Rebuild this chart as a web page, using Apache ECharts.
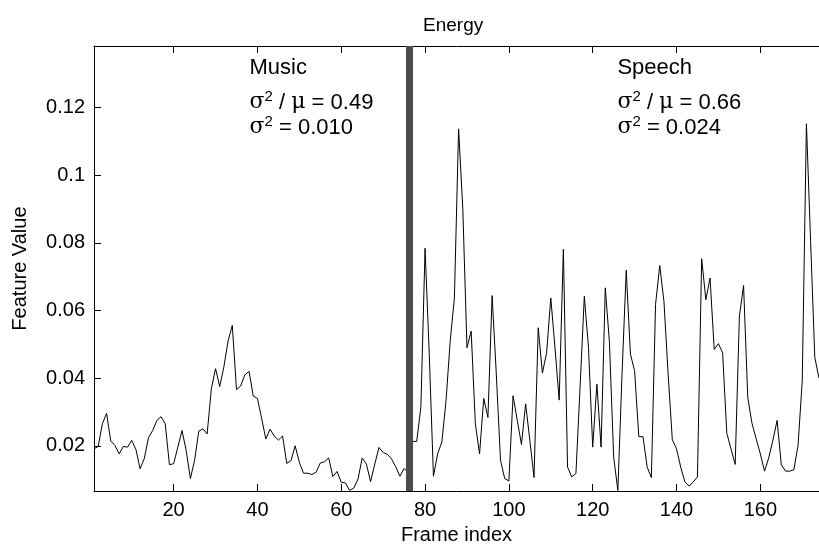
<!DOCTYPE html>
<html><head><meta charset="utf-8">
<script src="https://cdn.jsdelivr.net/npm/echarts@6/dist/echarts.min.js"></script>
<style>html,body{margin:0;padding:0;background:#fff}#c{width:819px;height:550px}</style>
</head><body><div id="c"></div>
<script>
// Energy feature value per frame (frames 1..174)
const musicEnergy = [
  0.0191,0.0198,0.0265,0.0296,0.0214,0.0201,0.0176,0.0198,0.0196,0.0216,
  0.0189,0.0132,0.0162,0.0224,0.0245,0.0275,0.0286,0.0265,0.0144,0.0147,
  0.0196,0.0245,0.0186,0.0103,0.0157,0.0243,0.0250,0.0235,0.0368,0.0428,
  0.0375,0.0434,0.0510,0.0556,0.0366,0.0377,0.0410,0.0420,0.0347,0.0340,
  0.0281,0.0220,0.0249,0.0229,0.0217,0.0229,0.0148,0.0156,0.0200,0.0151,
  0.0119,0.0119,0.0115,0.0122,0.0149,0.0153,0.0164,0.0109,0.0124,0.0092,
  0.0090,0.0068,0.0075,0.0102,0.0164,0.0146,0.0094,0.0146,0.0195,0.0180,
  0.0175,0.0161,0.0138,0.0110,0.0133,0.0120
];
const speechEnergy = [
  0.0213,0.0213,0.0314,0.0784,0.0471,0.0110,0.0176,0.0211,0.0333,0.0510,
  0.0637,0.1137,0.0902,0.0490,0.0539,0.0265,0.0176,0.0340,0.0284,0.0644,
  0.0412,0.0157,0.0103,0.0096,0.0348,0.0275,0.0204,0.0324,0.0216,0.0106,
  0.0549,0.0415,0.0475,0.0637,0.0490,0.0335,0.0781,0.0137,0.0108,0.0118,
  0.0377,0.0642,0.0490,0.0196,0.0382,0.0196,0.0667,0.0505,0.0167,0.0068,
  0.0412,0.0719,0.0471,0.0422,0.0227,0.0227,0.0137,0.0106,0.0618,0.0733,
  0.0627,0.0412,0.0218,0.0191,0.0137,0.0093,0.0081,0.0093,0.0108,0.0753,
  0.0632,0.0696,0.0485,0.0502,0.0475,0.0237,0.0191,0.0145,0.0583,0.0674,
  0.0343,0.0267,0.0221,0.0176,0.0125,0.0164,0.0216,0.0275,0.0144,0.0125,
  0.0125,0.0129,0.0201,0.0392,0.1152,0.0804,0.0461,0.0400
];
const firstFrame = 1;
const boundaryFrame = 76.3;
const xTickValues = [20, 40, 60, 80, 100, 120, 140, 160];
const yTickValues = [0.02, 0.04, 0.06, 0.08, 0.10, 0.12];
const yTickLabels = ['0.02', '0.04', '0.06', '0.08', '0.1', '0.12'];
const xRange = [1, 174];
const yRange = [0.0066, 0.1382];
const titleText = 'Energy';
const xName = 'Frame index';
const yName = 'Feature Value';
const annotations = [
  { frame: 38.1, value: 0.1357, lines: ['Music', '0.49', '0.010'] },
  { frame: 125.9, value: 0.1357, lines: ['Speech', '0.66', '0.024'] }
];

const allEnergy = musicEnergy.concat(speechEnergy);
const seriesData = allEnergy.map((v, i) => [firstFrame + i, v]);

const FONT = 'Liberation Sans';
const chart = echarts.init(document.getElementById('c'), null, { renderer: 'canvas' });

const option = {
  backgroundColor: '#ffffff',
  animation: false,
  title: {
    text: titleText, left: 418, top: 11,
    textStyle: { fontFamily: FONT, fontSize: 19, fontWeight: 'normal', color: '#000' }
  },
  grid: { left: 94, right: 0, top: 46, bottom: 56, containLabel: false },
  xAxis: [{
    type: 'value', min: xRange[0], max: xRange[1], position: 'bottom',
    name: xName, nameLocation: 'middle', nameGap: 33,
    nameTextStyle: { fontFamily: FONT, fontSize: 20, color: '#000' },
    axisLine: { show: true, lineStyle: { color: '#000', width: 1 } },
    axisTick: { show: true, inside: true, length: 7, customValues: xTickValues, lineStyle: { color: '#000' } },
    axisLabel: { show: true, customValues: xTickValues, margin: 9, fontFamily: FONT, fontSize: 20, color: '#000' },
    splitLine: { show: false }
  }, {
    type: 'value', min: xRange[0], max: xRange[1], position: 'top',
    axisLine: { show: true, lineStyle: { color: '#000', width: 1 } },
    axisTick: { show: true, inside: true, length: 7, customValues: xTickValues, lineStyle: { color: '#000' } },
    axisLabel: { show: false },
    splitLine: { show: false }
  }],
  yAxis: [{
    type: 'value', min: yRange[0], max: yRange[1],
    name: yName, nameLocation: 'middle', nameGap: 64, nameRotate: 90,
    nameTextStyle: { fontFamily: FONT, fontSize: 20, color: '#000' },
    axisLine: { show: true, lineStyle: { color: '#000', width: 1 } },
    axisTick: { show: true, inside: true, length: 7, customValues: yTickValues, lineStyle: { color: '#000' } },
    axisLabel: {
      show: true, customValues: yTickValues, margin: 9, fontFamily: FONT, fontSize: 20, color: '#000',
      formatter: (v) => {
        const idx = yTickValues.findIndex(t => Math.abs(t - v) < 1e-9);
        return idx >= 0 ? yTickLabels[idx] : '';
      }
    },
    splitLine: { show: false }
  }],
  series: [{
    type: 'line',
    data: seriesData,
    showSymbol: false,
    symbol: 'none',
    clip: true,
    lineStyle: { color: '#000', width: 1 },
    markLine: {
      silent: true,
      symbol: ['none', 'none'],
      label: { show: false },
      lineStyle: { color: '#4d4d4d', width: 7, type: 'solid' },
      data: [{ xAxis: boundaryFrame }]
    },
    z: 3
  }]
};
chart.setOption(option);

// annotations positioned from data coordinates
const rich = {
  b: { fontFamily: FONT, fontSize: 22, color: '#000', lineHeight: 26 },
  g: { fontFamily: 'DejaVu Serif', fontSize: 22, color: '#000', lineHeight: 26 },
  sup: { fontFamily: FONT, fontSize: 15, color: '#000', lineHeight: 26, verticalAlign: 'top' }
};
const lineOffsets = [0, 35, 60];
const graphics = [];
annotations.forEach(a => {
  const p = chart.convertToPixel({ xAxisIndex: 0, yAxisIndex: 0 }, [a.frame, a.value]);
  const texts = [
    '{b|' + a.lines[0] + '}',
    '{g|σ}{sup|2}{b| / }{g|μ}{b| = ' + a.lines[1] + '}',
    '{g|σ}{sup|2}{b| = ' + a.lines[2] + '}'
  ];
  texts.forEach((t, i) => {
    graphics.push({
      type: 'text', x: p[0], y: p[1] + lineOffsets[i], z: 10,
      style: { text: t, rich: rich, textAlign: 'left', textVerticalAlign: 'top' }
    });
  });
});
chart.setOption({ graphic: graphics });
</script>
</body></html>
